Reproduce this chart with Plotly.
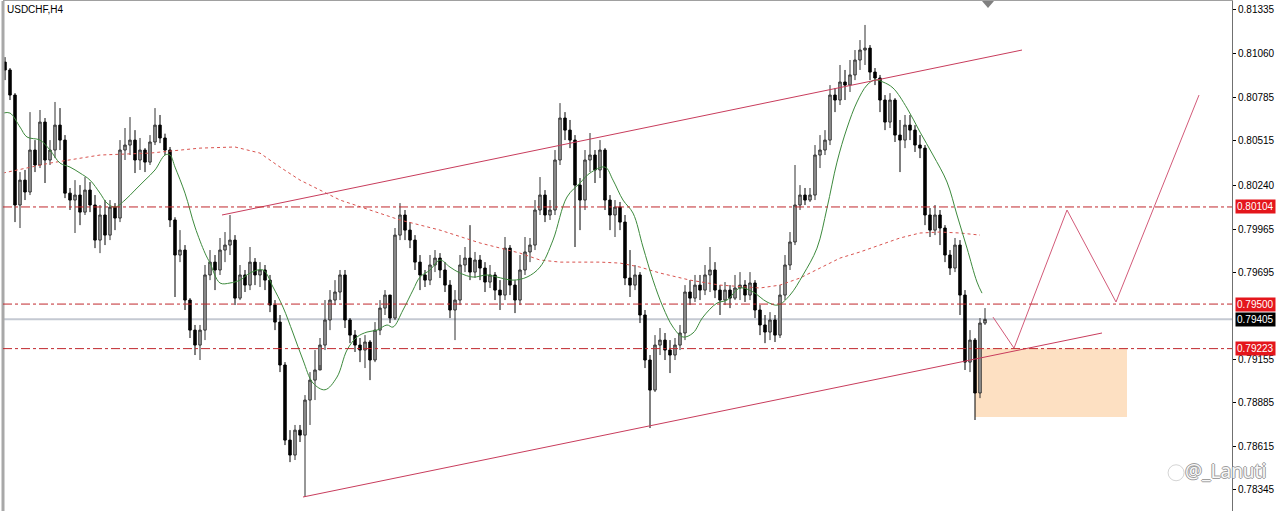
import plotly.graph_objects as go

# USDCHF H4 candles (one bar every 4 hours)
symbol_label = "USDCHF,H4"
first_open = 0.81005
closes = [
    0.80956, 0.80800, 0.80116, 0.80271, 0.80197, 0.80458, 0.80365, 0.80632, 0.80396, 0.80458,
    0.80613, 0.80520, 0.80190, 0.80147, 0.80178, 0.80072, 0.80209, 0.80116, 0.79898, 0.80054,
    0.79929, 0.80103, 0.80035, 0.80458, 0.80489, 0.80520, 0.80396, 0.80458, 0.80383, 0.80508,
    0.80613, 0.80533, 0.80458, 0.80023, 0.79805, 0.79836, 0.79525, 0.79338, 0.79245, 0.79338,
    0.79681, 0.79761, 0.79712, 0.79836, 0.79867, 0.79898, 0.79537, 0.79681, 0.79618, 0.79761,
    0.79681, 0.79712, 0.79649, 0.79494, 0.79388, 0.79121, 0.78654, 0.78561, 0.78716, 0.78685,
    0.78903, 0.79027, 0.79090, 0.79245, 0.79401, 0.79525, 0.79575, 0.79681, 0.79401, 0.79307,
    0.79245, 0.79214, 0.79264, 0.79152, 0.79338, 0.79475, 0.79556, 0.79413, 0.79929, 0.80054,
    0.79960, 0.79898, 0.79761, 0.79681, 0.79649, 0.79743, 0.79786, 0.79712, 0.79618, 0.79463,
    0.79525, 0.79743, 0.79786, 0.79699, 0.79774, 0.79724, 0.79637, 0.79681, 0.79587, 0.79556,
    0.79848, 0.79618, 0.79525, 0.79712, 0.79824, 0.79867, 0.80085, 0.80178, 0.80054, 0.80085,
    0.80396, 0.80657, 0.80582, 0.80520, 0.80240, 0.80147, 0.80396, 0.80427, 0.80334, 0.80458,
    0.80147, 0.80054, 0.80103, 0.80010, 0.79662, 0.79618, 0.79681, 0.79432, 0.79152, 0.78965,
    0.79245, 0.79276, 0.79214, 0.79183, 0.79245, 0.79320, 0.79575, 0.79537, 0.79618, 0.79587,
    0.79681, 0.79712, 0.79587, 0.79525, 0.79587, 0.79537, 0.79600, 0.79618, 0.79556, 0.79631,
    0.79463, 0.79370, 0.79326, 0.79401, 0.79307, 0.79556, 0.79743, 0.79886, 0.80116, 0.80178,
    0.80147, 0.80178, 0.80427, 0.80458, 0.80520, 0.80800, 0.80769, 0.80881, 0.80862, 0.80925,
    0.81018, 0.81080, 0.81092, 0.80943, 0.80906, 0.80769, 0.80632, 0.80769, 0.80551, 0.80520,
    0.80613, 0.80582, 0.80489, 0.80470, 0.80054, 0.79960, 0.80054, 0.79973, 0.79805, 0.79724,
    0.79867, 0.79556, 0.79139, 0.79276, 0.78947, 0.79382, 0.79405,
]
highs = [
    0.81036, 0.80968, 0.80812, 0.80321, 0.80334, 0.80694, 0.80520, 0.80707, 0.80657, 0.80520,
    0.80757, 0.80719, 0.80551, 0.80222, 0.80271, 0.80240, 0.80290, 0.80259, 0.80178, 0.80116,
    0.80147, 0.80147, 0.80128, 0.80520, 0.80595, 0.80663, 0.80582, 0.80533, 0.80470, 0.80551,
    0.80719, 0.80676, 0.80560, 0.80477, 0.80040, 0.79960, 0.79867, 0.79537, 0.79370, 0.79370,
    0.79743, 0.79836, 0.79805, 0.79911, 0.79948, 0.80054, 0.79929, 0.79743, 0.79712, 0.79855,
    0.79786, 0.79761, 0.79743, 0.79681, 0.79525, 0.79432, 0.79139, 0.78716, 0.78748, 0.78748,
    0.78934, 0.79077, 0.79214, 0.79289, 0.79525, 0.79587, 0.79649, 0.79712, 0.79712, 0.79413,
    0.79338, 0.79289, 0.79307, 0.79276, 0.79388, 0.79525, 0.79587, 0.79556, 0.79973, 0.80128,
    0.80085, 0.80010, 0.79929, 0.79805, 0.79712, 0.79805, 0.79836, 0.79817, 0.79761, 0.79649,
    0.79587, 0.79805, 0.79855, 0.79991, 0.79824, 0.79805, 0.79761, 0.79743, 0.79699, 0.79649,
    0.79917, 0.79867, 0.79649, 0.79805, 0.79917, 0.79911, 0.80147, 0.80290, 0.80209, 0.80147,
    0.80458, 0.80750, 0.80694, 0.80645, 0.80551, 0.80284, 0.80458, 0.80564, 0.80458, 0.80520,
    0.80470, 0.80178, 0.80147, 0.80135, 0.80054, 0.79836, 0.79743, 0.79699, 0.79463, 0.79183,
    0.79307, 0.79351, 0.79320, 0.79276, 0.79289, 0.79370, 0.79618, 0.79649, 0.79681, 0.79681,
    0.79743, 0.79855, 0.79761, 0.79618, 0.79637, 0.79618, 0.79681, 0.79699, 0.79649, 0.79699,
    0.79649, 0.79494, 0.79432, 0.79450, 0.79432, 0.79618, 0.79805, 0.79948, 0.80365, 0.80240,
    0.80222, 0.80222, 0.80489, 0.80551, 0.80582, 0.80862, 0.80844, 0.80987, 0.80956, 0.81018,
    0.81080, 0.81142, 0.81236, 0.81111, 0.80968, 0.80925, 0.80800, 0.80812, 0.80781, 0.80645,
    0.80676, 0.80676, 0.80613, 0.80551, 0.80489, 0.80097, 0.80116, 0.80085, 0.79991, 0.79836,
    0.79911, 0.79898, 0.79587, 0.79338, 0.79289, 0.79413, 0.79475,
]
lows = [
    0.80893, 0.80769, 0.80010, 0.79973, 0.80147, 0.80178, 0.80321, 0.80346, 0.80253, 0.80365,
    0.80408, 0.80458, 0.80159, 0.80085, 0.79942, 0.79991, 0.80054, 0.80072, 0.79848, 0.79817,
    0.79867, 0.79898, 0.79960, 0.80010, 0.80396, 0.80427, 0.80315, 0.80334, 0.80321, 0.80365,
    0.80489, 0.80501, 0.80427, 0.79979, 0.79544, 0.79761, 0.79463, 0.79289, 0.79183, 0.79152,
    0.79276, 0.79649, 0.79587, 0.79681, 0.79761, 0.79805, 0.79494, 0.79525, 0.79575, 0.79587,
    0.79618, 0.79606, 0.79587, 0.79450, 0.79338, 0.79077, 0.78623, 0.78517, 0.78530, 0.78642,
    0.78300, 0.78748, 0.78903, 0.79121, 0.79214, 0.79338, 0.79494, 0.79525, 0.79351, 0.79257,
    0.79202, 0.79139, 0.79102, 0.79027, 0.79139, 0.79307, 0.79432, 0.79382, 0.79401, 0.79898,
    0.79898, 0.79848, 0.79712, 0.79587, 0.79606, 0.79618, 0.79699, 0.79662, 0.79575, 0.79413,
    0.79276, 0.79494, 0.79699, 0.79649, 0.79662, 0.79649, 0.79575, 0.79600, 0.79525, 0.79463,
    0.79525, 0.79556, 0.79444, 0.79494, 0.79681, 0.79761, 0.79836, 0.80054, 0.80010, 0.80023,
    0.80054, 0.80365, 0.80520, 0.80470, 0.79855, 0.79960, 0.80085, 0.80321, 0.80253, 0.80284,
    0.80085, 0.79960, 0.79917, 0.79960, 0.79618, 0.79544, 0.79587, 0.79382, 0.79102, 0.78729,
    0.78953, 0.79183, 0.79152, 0.79071, 0.79152, 0.79214, 0.79276, 0.79494, 0.79513, 0.79525,
    0.79556, 0.79575, 0.79537, 0.79432, 0.79494, 0.79475, 0.79525, 0.79525, 0.79513, 0.79525,
    0.79413, 0.79307, 0.79257, 0.79276, 0.79264, 0.79289, 0.79525, 0.79712, 0.79867, 0.80085,
    0.80116, 0.80135, 0.80147, 0.80346, 0.80427, 0.80489, 0.80694, 0.80738, 0.80769, 0.80819,
    0.80893, 0.80956, 0.80987, 0.80893, 0.80862, 0.80694, 0.80582, 0.80595, 0.80508, 0.80321,
    0.80470, 0.80520, 0.80446, 0.80408, 0.79991, 0.79917, 0.79929, 0.79867, 0.79761, 0.79681,
    0.79699, 0.79432, 0.79090, 0.79077, 0.78779, 0.78915, 0.79370,
]
opens = [first_open] + closes[:-1]
bars = list(range(len(closes)))

# fast moving average (green) and slow moving average (red dotted)
ma_fast_bar = [-0.4, 1, 3, 4.4, 7, 9, 11, 13, 15, 17, 19, 20.4, 22, 24, 26, 28, 30, 32, 33, 34,
               36, 38, 40, 41, 43, 45, 47, 49, 51.6, 53.6, 55.6, 57.6, 59.6, 61.6, 64, 66.4, 68.4,
               70.4, 72.4, 74.4, 76.4, 77.6, 79.6, 81.6, 83, 85, 87, 89, 91, 93.6, 96.4, 98.4,
               101.6, 104.4, 107, 109.6, 112.4, 115, 117, 120, 121.6, 123.6, 125.6, 127.6, 129.6,
               131.6, 133.6, 135.6, 137.6, 139.6, 142.4, 144.4, 147, 149.6, 152.4, 154.6, 157,
               159.6, 162.4, 164.4, 166.4, 168.4, 170.4, 172.4, 174, 175.6, 177.6, 180.4, 183,
               185.6, 188.4, 190.4, 192.4, 194.4, 195.4]
ma_fast = [0.80688, 0.80688, 0.80601, 0.80539, 0.80520, 0.80458, 0.80377, 0.80352, 0.80315,
           0.80271, 0.80190, 0.80128, 0.80103, 0.80147, 0.80209, 0.80271, 0.80334, 0.80427,
           0.80427, 0.80352, 0.80190, 0.79979, 0.79817, 0.79755, 0.79631, 0.79631, 0.79649,
           0.79693, 0.79712, 0.79606, 0.79481, 0.79320, 0.79152, 0.79009, 0.78967, 0.79046,
           0.79214, 0.79295, 0.79326, 0.79338, 0.79370, 0.79357, 0.79463, 0.79587, 0.79668,
           0.79712, 0.79774, 0.79730, 0.79693, 0.79668, 0.79681, 0.79668, 0.79649, 0.79668,
           0.79730, 0.79898, 0.80166, 0.80253, 0.80315, 0.80352, 0.80271, 0.80147, 0.80066,
           0.79855, 0.79649, 0.79481, 0.79357, 0.79295, 0.79320, 0.79419, 0.79506, 0.79525,
           0.79600, 0.79575, 0.79513, 0.79494, 0.79556, 0.79681, 0.79848, 0.80097, 0.80383,
           0.80595, 0.80757, 0.80862, 0.80894, 0.80881, 0.80844, 0.80719, 0.80570, 0.80427,
           0.80259, 0.80054, 0.79848, 0.79637, 0.79568]
ma_slow_bar = [-0.4, 9, 19, 29, 39, 46, 51, 55, 59, 63, 67, 73, 79, 87, 95, 103, 107, 111, 119,
               123, 127, 131, 137, 143, 151, 155, 159, 163, 167, 171, 175, 179, 183, 187, 191, 195]
ma_slow = [0.80315, 0.80377, 0.80427, 0.80439, 0.80470, 0.80477, 0.80439, 0.80352, 0.80271,
           0.80209, 0.80147, 0.80085, 0.80023, 0.79960, 0.79880, 0.79817, 0.79774, 0.79761,
           0.79761, 0.79755, 0.79730, 0.79693, 0.79649, 0.79618, 0.79600, 0.79618, 0.79662,
           0.79724, 0.79786, 0.79824, 0.79867, 0.79911, 0.79942, 0.79948, 0.79942, 0.79929]

# drawn objects
level_prices = [0.80104, 0.79500, 0.79223]
bid_price = 0.79405
upper_channel_bar = [43.4, 203.4]
upper_channel = [0.80054, 0.81080]
lower_channel_bar = [59.6, 219.4]
lower_channel = [0.78300, 0.79320]
path_bar = [197.6, 201.8, 212.4, 222.2, 238.8]
path_price = [0.79419, 0.79226, 0.80085, 0.79513, 0.80800]
zone_bar = [194, 224.4]
zone_price = [0.78797, 0.79223]

tick_values = [0.81335, 0.81060, 0.80785, 0.80515, 0.80240, 0.79965, 0.79695,
               0.79155, 0.78885, 0.78615, 0.78345]

font = "Liberation Sans, Arial, sans-serif"
trend_red = "#c83c5c"
level_red = "#c0282d"

fig = go.Figure()

fig.add_trace(go.Candlestick(
    x=bars, open=opens, high=highs, low=lows, close=closes,
    increasing=dict(line=dict(color="#303030", width=1), fillcolor="#a8a8a8"),
    decreasing=dict(line=dict(color="#000000", width=1), fillcolor="#000000"),
    whiskerwidth=0, showlegend=False, hoverinfo="skip",
))
fig.add_trace(go.Scatter(x=ma_slow_bar, y=ma_slow, mode="lines", line=dict(color="#d9534f", width=1, dash="dot"),
                         showlegend=False, hoverinfo="skip"))
fig.add_trace(go.Scatter(x=ma_fast_bar, y=ma_fast, mode="lines", line=dict(color="#3d8a3d", width=1, shape="spline"),
                         showlegend=False, hoverinfo="skip"))
fig.add_trace(go.Scatter(x=upper_channel_bar, y=upper_channel, mode="lines", line=dict(color=trend_red, width=1),
                         showlegend=False, hoverinfo="skip"))
fig.add_trace(go.Scatter(x=lower_channel_bar, y=lower_channel, mode="lines", line=dict(color=trend_red, width=1),
                         showlegend=False, hoverinfo="skip"))
fig.add_trace(go.Scatter(x=path_bar, y=path_price, mode="lines", line=dict(color="#d25a78", width=1),
                         showlegend=False, hoverinfo="skip"))

shapes = [
    dict(type="rect", xref="x", yref="y", x0=zone_bar[0], x1=zone_bar[1], y0=zone_price[0], y1=zone_price[1],
         fillcolor="#fde0c2", line=dict(width=0), layer="below"),
    dict(type="line", xref="paper", yref="y", x0=0, x1=1, y0=bid_price, y1=bid_price,
         line=dict(color="#c4c9d2", width=2), layer="below"),
    dict(type="line", xref="paper", yref="paper", x0=0, x1=0, y0=0, y1=1,
         line=dict(color="#a8a8a8", width=3)),
    dict(type="path", xref="x", yref="paper", xsizemode="pixel", ysizemode="pixel",
         xanchor=196.6, yanchor=1, path="M-6,0 L6,0 L0,-7 Z", fillcolor="#808080", line=dict(width=0)),
    dict(type="circle", xref="paper", yref="paper", xsizemode="pixel", ysizemode="pixel",
         xanchor=0.9545, yanchor=0.075, x0=-8, x1=8, y0=-8, y1=8,
         line=dict(color="rgba(170,170,170,0.5)", width=1)),
]
for p in level_prices:
    shapes.append(dict(type="line", xref="paper", yref="y", x0=0, x1=1, y0=p, y1=p,
                       line=dict(color=level_red, width=1, dash="dashdot")))

annotations = [
    dict(text=symbol_label, xref="paper", yref="paper", x=0, y=1, xanchor="left", yanchor="top",
         xshift=2, yshift=-1, showarrow=False, font=dict(family=font, size=10, color="#000")),
    dict(text="@_Lanuti", xref="paper", yref="paper", x=0.995, y=0.078, xanchor="center", yanchor="middle",
         showarrow=False,
         font=dict(family="Noto Sans, sans-serif", size=19, color="rgba(255,255,255,0.95)",
                   shadow="1px 0 0 #999, -1px 0 0 #999, 0 1px 0 #999, 0 -1px 0 #999")),
]
for p in level_prices:
    annotations.append(dict(text=f"{p:.5f}", xref="paper", yref="y", x=1, y=p, xanchor="left", yanchor="middle",
                            xshift=3, showarrow=False, bgcolor="#e4161c", borderpad=1,
                            font=dict(family=font, size=10, color="#ffffff")))
annotations.append(dict(text=f"{bid_price:.5f}", xref="paper", yref="y", x=1, y=bid_price, xanchor="left",
                        yanchor="middle", xshift=3, showarrow=False, bgcolor="#000000", borderpad=1,
                        font=dict(family=font, size=10, color="#ffffff")))

fig.update_layout(
    width=1280, height=511,
    margin=dict(l=3, r=48, t=1, b=0),
    paper_bgcolor="#ffffff", plot_bgcolor="#ffffff",
    shapes=shapes, annotations=annotations,
    xaxis=dict(range=[-0.4, 245.4], showgrid=False, zeroline=False, showticklabels=False, ticks="",
               showline=True, mirror=True, linecolor="#a0a0a0", rangeslider=dict(visible=False)),
    yaxis=dict(range=[0.78213, 0.81385], side="right", showgrid=False, zeroline=False,
               tickvals=tick_values, ticktext=[f"{v:.5f}" for v in tick_values],
               ticks="outside", ticklen=3, tickcolor="#000", showline=True, linecolor="#707070",
               tickfont=dict(family=font, size=10, color="#000")),
    hovermode=False,
)

fig.write_html("out.html", config={"displayModeBar": False},
               post_script="document.body.style.margin='0';document.body.style.overflow='hidden';")
